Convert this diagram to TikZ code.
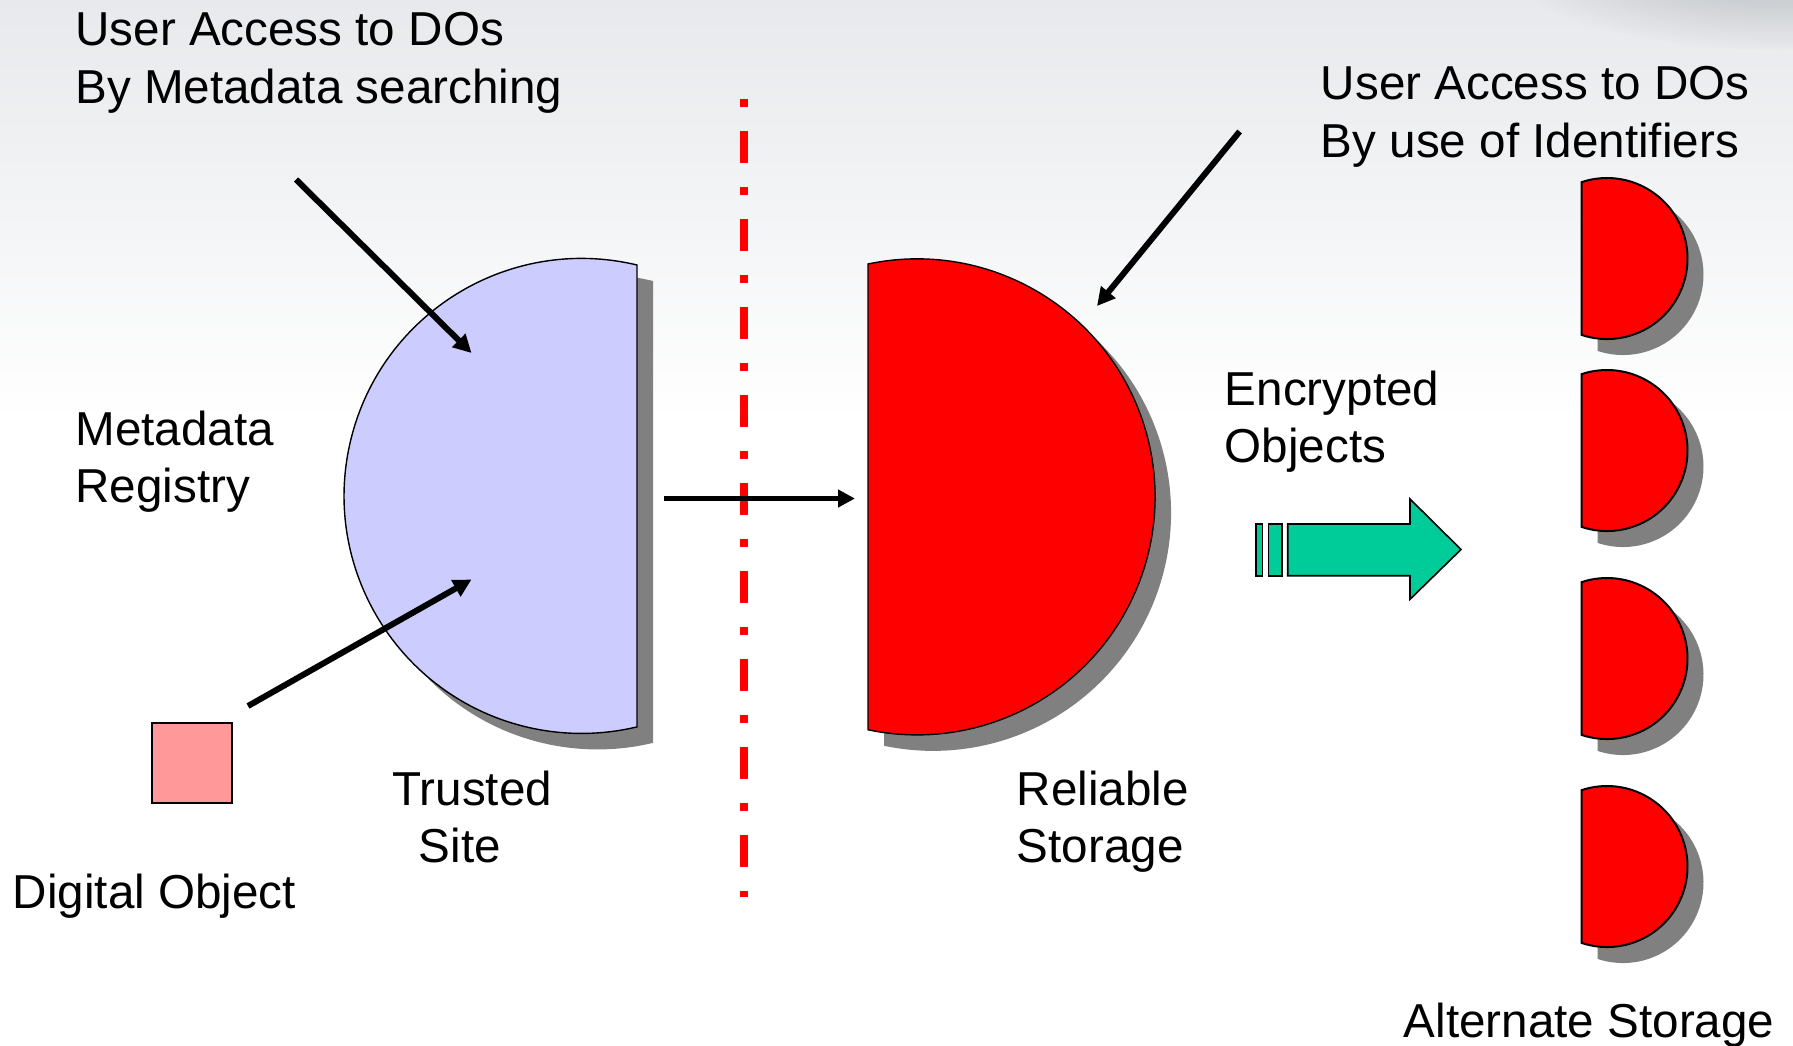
\documentclass[tikz,border=0pt]{standalone}
\usepackage{fontspec}
\setmainfont{Liberation Sans}
\usetikzlibrary{arrows.meta}

\definecolor{bgtop}{RGB}{231,233,236}
\definecolor{swoosh}{RGB}{120,125,132}
\definecolor{shadowgray}{RGB}{128,128,128}
\definecolor{lavender}{RGB}{204,204,255}
\definecolor{diskred}{RGB}{255,0,0}
\definecolor{dopink}{RGB}{255,153,153}
\definecolor{teal}{RGB}{0,204,153}

\begin{document}
\begin{tikzpicture}[x=0.5pt,y=-0.5pt,
  lbl/.style={anchor=base west,inner sep=0pt,font=\fontsize{23.8pt}{28.5pt}\selectfont},
  hshadow/.style={fill=shadowgray,draw=none},
  disk/.style={draw=black,line width=0.7pt},
  smalldisk/.style={draw=black,line width=1pt,fill=diskred},
  pointer/.style={line width=3pt,-{Triangle[length=9pt,width=9pt]}},
  link/.style={line width=2.5pt,-{Triangle[length=8.5pt,width=8.5pt]}},
  boundary/.style={draw=diskred,line width=4pt,line cap=butt,
    dash pattern=on 4pt off 12pt on 16pt off 12pt},
  flowarrow/.style={draw=black,line width=0.8pt,fill=teal,line join=miter}]

% canvas and background
\useasboundingbox (0,0) rectangle (1793,1045);
\fill[white] (0,0) rectangle (1793,1045);
\shade[top color=bgtop,bottom color=white] (0,0) rectangle (1793,420);
\begin{scope}
  \clip (0,0) rectangle (1793,1045);
  \shade[inner color=swoosh,outer color=bgtop,opacity=0.55] (1780,-60) ellipse[x radius=300,y radius=110];
\end{scope}

% dividing line
\coordinate (bnd-top) at (743.5,99);
\coordinate (bnd-bot) at (743.5,897);
\draw[boundary] (bnd-top) -- (bnd-bot);

% trusted site (metadata registry)
\fill[hshadow] (653,281) arc[start angle=-76.5,end angle=-283.5,radius=237.5] -- cycle;
\draw[disk,fill=lavender] (637,265) arc[start angle=-76.5,end angle=-283.5,radius=237.5] -- cycle;

% reliable storage
\fill[hshadow] (884,280) arc[start angle=-101.9,end angle=101.9,radius=238] -- cycle;
\draw[disk,fill=diskred] (868,264) arc[start angle=-101.9,end angle=101.9,radius=238] -- cycle;

% alternate storage units
\foreach \cy in {258.5,450.5,658.5,866.5}{
  \fill[hshadow] (1597.7,\cy-60.4) arc[start angle=-108.3,end angle=108.3,radius=80.5] -- cycle;
  \draw[smalldisk] (1581.7,\cy-76.4) arc[start angle=-108.3,end angle=108.3,radius=80.5] -- cycle;
}

% digital object
\node[draw=black,line width=0.8pt,fill=dopink,minimum size=40pt,inner sep=0pt] (do) at (191.9,762.7) {};

% encrypted objects flow arrow
\draw[flowarrow] (1256,524) rectangle (1262.3,575.7);
\draw[flowarrow] (1268.3,524) rectangle (1281.7,575.7);
\draw[flowarrow] (1287.7,524) -- (1410,524) -- (1410,499) -- (1461,549.5)
  -- (1410,599.3) -- (1410,575.7) -- (1287.7,575.7) -- cycle;

% labels
\node[lbl] (um1) at (75,45.7) {User Access to DOs};
\node[lbl] (um2) at (75,103) {By Metadata searching};
\node[lbl] (ui1) at (1320.5,99.5) {User Access to DOs};
\node[lbl] (ui2) at (1320.5,157) {By use of Identifiers};
\node[lbl] (mr1) at (75,445) {Metadata};
\node[lbl] (mr2) at (75,502) {Registry};
\node[lbl] (eo1) at (1224.5,405) {Encrypted};
\node[lbl] (eo2) at (1224.5,462) {Objects};
\node[lbl] (ts1) at (392,805) {Trusted};
\node[lbl] (ts2) at (418.5,862) {Site};
\node[lbl] (rs1) at (1016.5,805) {Reliable};
\node[lbl] (rs2) at (1016.5,862) {Storage};
\node[lbl] (dol) at (12.5,908) {Digital Object};
\node[lbl] (alt) at (1403.5,1037) {Alternate Storage};

% connector end points
\coordinate (search-from) at (296,179.5);
\coordinate (search-to) at (471.5,353);
\coordinate (ingest-from) at (248,706);
\coordinate (ingest-to) at (471.5,579.5);
\coordinate (store-from) at (664,498.5);
\coordinate (store-to) at (855,498.5);
\coordinate (ident-from) at (1239.6,131.5);
\coordinate (ident-to) at (1097,306);

% connectors
\draw[pointer] (search-from) -- (search-to);
\draw[pointer] (ingest-from) -- (ingest-to);
\draw[link] (store-from) -- (store-to);
\draw[pointer] (ident-from) -- (ident-to);
\end{tikzpicture}
\end{document}
